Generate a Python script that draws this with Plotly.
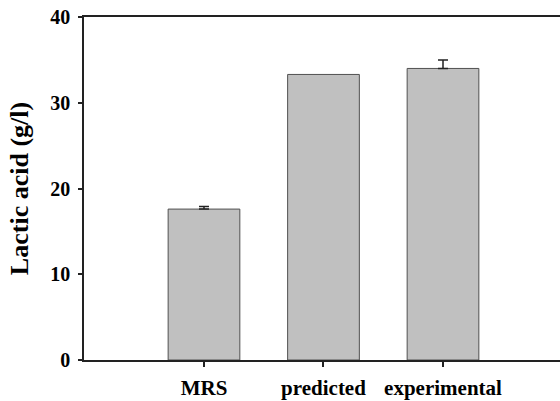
import plotly.graph_objects as go

categories = ["MRS", "predicted", "experimental"]
values = [17.6, 33.3, 34.0]
errors_up = [0.3, None, 1.0]
y_ticks = [0, 10, 20, 30, 40]

SERIF = "Liberation Serif, Times New Roman, serif"

xpos = list(range(len(categories)))
fig = go.Figure()
fig.add_trace(go.Bar(
    x=xpos,
    y=values,
    width=0.6,
    marker=dict(color="#c0c0c0", line=dict(color="#505050", width=1)),
))
err_idx = [i for i, e in enumerate(errors_up) if e is not None]
fig.add_trace(go.Scatter(
    x=[xpos[i] for i in err_idx],
    y=[values[i] for i in err_idx],
    mode="markers",
    marker=dict(size=1, opacity=0),
    error_y=dict(type="data", symmetric=False,
                 array=[errors_up[i] for i in err_idx],
                 arrayminus=[0 for _ in err_idx],
                 color="#222222", thickness=1.5, width=5),
    hoverinfo="skip",
))

fig.update_layout(
    width=560, height=401,
    margin=dict(l=84, r=0, t=17, b=41),
    plot_bgcolor="white", paper_bgcolor="white",
    showlegend=False,
    font=dict(family=SERIF, color="black"),
)
fig.update_xaxes(
    tickmode="array", tickvals=xpos, ticktext=["<b>%s</b>" % c for c in categories],
    range=[-1.004, 2.979],
    showline=True, linecolor="#222222", linewidth=1.5, mirror=True,
    ticks="outside", ticklen=5, tickcolor="#222222", tickwidth=1.5,
    ticklabelstandoff=3,
    tickfont=dict(size=21, family=SERIF, color="black"),
    showgrid=False, zeroline=False,
)
fig.update_yaxes(
    range=[0, 40], tickmode="array", tickvals=y_ticks,
    ticktext=["<b>%d</b>" % t for t in y_ticks],
    showline=True, linecolor="#222222", linewidth=1.5,
    ticks="outside", ticklen=4, tickcolor="#222222", tickwidth=1.5,
    ticklabelstandoff=4,
    tickfont=dict(size=20, family=SERIF, color="black"),
    title=dict(text="<b>Lactic acid (g/l)</b>", standoff=14,
               font=dict(size=26, family=SERIF, color="black")),
    showgrid=False, zeroline=False,
)

fig.write_html("out.html")
